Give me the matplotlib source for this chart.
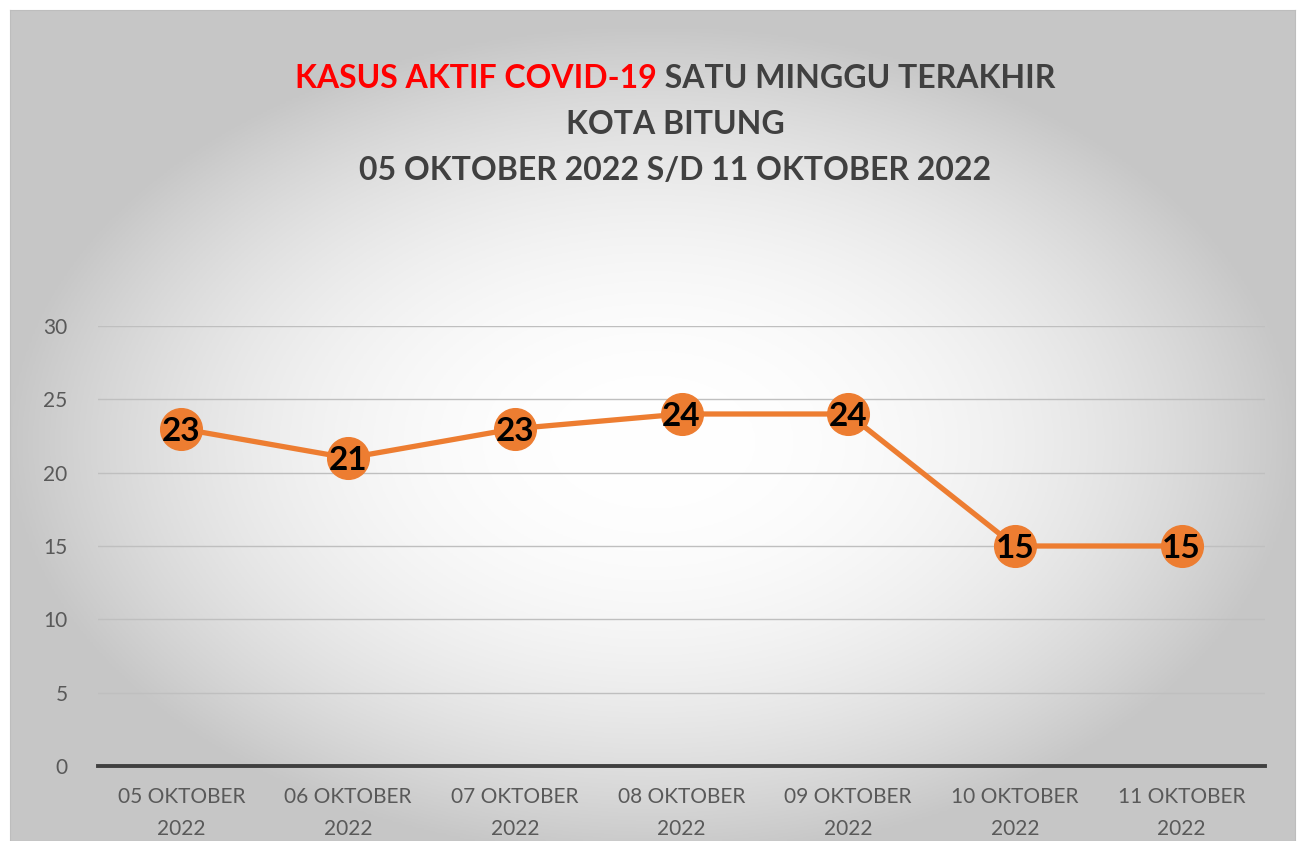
import numpy as np
import matplotlib
matplotlib.use("Agg")
import matplotlib.pyplot as plt

# ── Data ─────────────────────────────────────────────────────────────────────
tanggal = [
    "05 OKTOBER\n2022", "06 OKTOBER\n2022", "07 OKTOBER\n2022",
    "08 OKTOBER\n2022", "09 OKTOBER\n2022", "10 OKTOBER\n2022",
    "11 OKTOBER\n2022",
]
kasus_aktif = [23, 21, 23, 24, 24, 15, 15]
y_ticks = [0, 5, 10, 15, 20, 25, 30]

ORANGE = "#ED7D31"
GREY_TXT = "#595959"
TITLE_GREY = "#404040"

plt.rcParams["font.family"] = ["Lato", "DejaVu Sans"]

W, H = 1297, 841
fig = plt.figure(figsize=(W / 100, H / 100), dpi=100)
fig.patch.set_facecolor("white")

# ── Background panel with radial gradient ────────────────────────────────────
px0, px1, py0, py1 = 10, 1295, 10, 841
bg = fig.add_axes([px0 / W, 1 - py1 / H, (px1 - px0) / W, (py1 - py0) / H])
gx, gy = np.meshgrid(np.linspace(0, 1, 400), np.linspace(0, 1, 300))
r = np.sqrt(((gx - 0.5) / 0.5) ** 2 + ((gy - 0.52) / 0.5) ** 2)
r = np.clip(r, 0, 1)
shade = 1.0 - 0.22 * r ** 2.2
bg.imshow(np.dstack([shade] * 3), aspect="auto", extent=[0, 1, 0, 1])
bg.set_xticks([])
bg.set_yticks([])
for s in bg.spines.values():
    s.set_color("#bdbdbd")
    s.set_linewidth(0.8)

# ── Chart ────────────────────────────────────────────────────────────────────
ax = fig.add_axes([98 / W, 1 - 766 / H, (1265 - 98) / W, (766 - 326) / H])
ax.patch.set_alpha(0)
x = np.arange(len(tanggal))

ax.plot(x, kasus_aktif, color=ORANGE, lw=3.8, marker="o", markersize=30,
        markerfacecolor=ORANGE, markeredgecolor=ORANGE, zorder=3)
for xi, v in zip(x, kasus_aktif):
    ax.text(xi, v, str(v), ha="center", va="center_baseline", fontsize=24,
            fontweight="bold", color="black", zorder=4)

ax.set_xlim(-0.5, len(tanggal) - 0.5)
ax.set_ylim(0, 30)
ax.set_yticks(y_ticks)
ax.set_xticks(x)
ax.set_xticklabels(tanggal, fontsize=15, color=GREY_TXT, linespacing=1.75)
ax.tick_params(axis="y", labelsize=15, labelcolor=GREY_TXT, length=0, pad=22)
ax.tick_params(axis="x", length=0, pad=15)
ax.grid(axis="y", color="#bfbfbf", lw=1.0)
ax.set_axisbelow(True)
for name, s in ax.spines.items():
    s.set_visible(name == "bottom")
ax.spines["bottom"].set_color("#404040")
ax.spines["bottom"].set_linewidth(2.8)
ax.spines["bottom"].set_zorder(2.5)

# ── Title ────────────────────────────────────────────────────────────────────
cx = 675 / W
title_kw = dict(fontsize=23, fontweight="bold", va="center")
red = fig.text(0, 1 - 78 / H, "KASUS AKTIF COVID-19", color="#FF0000", ha="left", **title_kw)
grey = fig.text(0, 1 - 78 / H, " SATU MINGGU TERAKHIR", color=TITLE_GREY, ha="left", **title_kw)
fig.canvas.draw()
rend = fig.canvas.get_renderer()
w_red = red.get_window_extent(rend).width / W
w_grey = grey.get_window_extent(rend).width / W
start = cx - (w_red + w_grey) / 2
red.set_x(start)
grey.set_x(start + w_red)

fig.text(cx, 1 - 125 / H, "KOTA BITUNG", color=TITLE_GREY, ha="center", **title_kw)
fig.text(cx, 1 - 170 / H, "05 OKTOBER 2022 S/D 11 OKTOBER 2022", color=TITLE_GREY,
         ha="center", **title_kw)

fig.savefig("out.png", dpi=100)
